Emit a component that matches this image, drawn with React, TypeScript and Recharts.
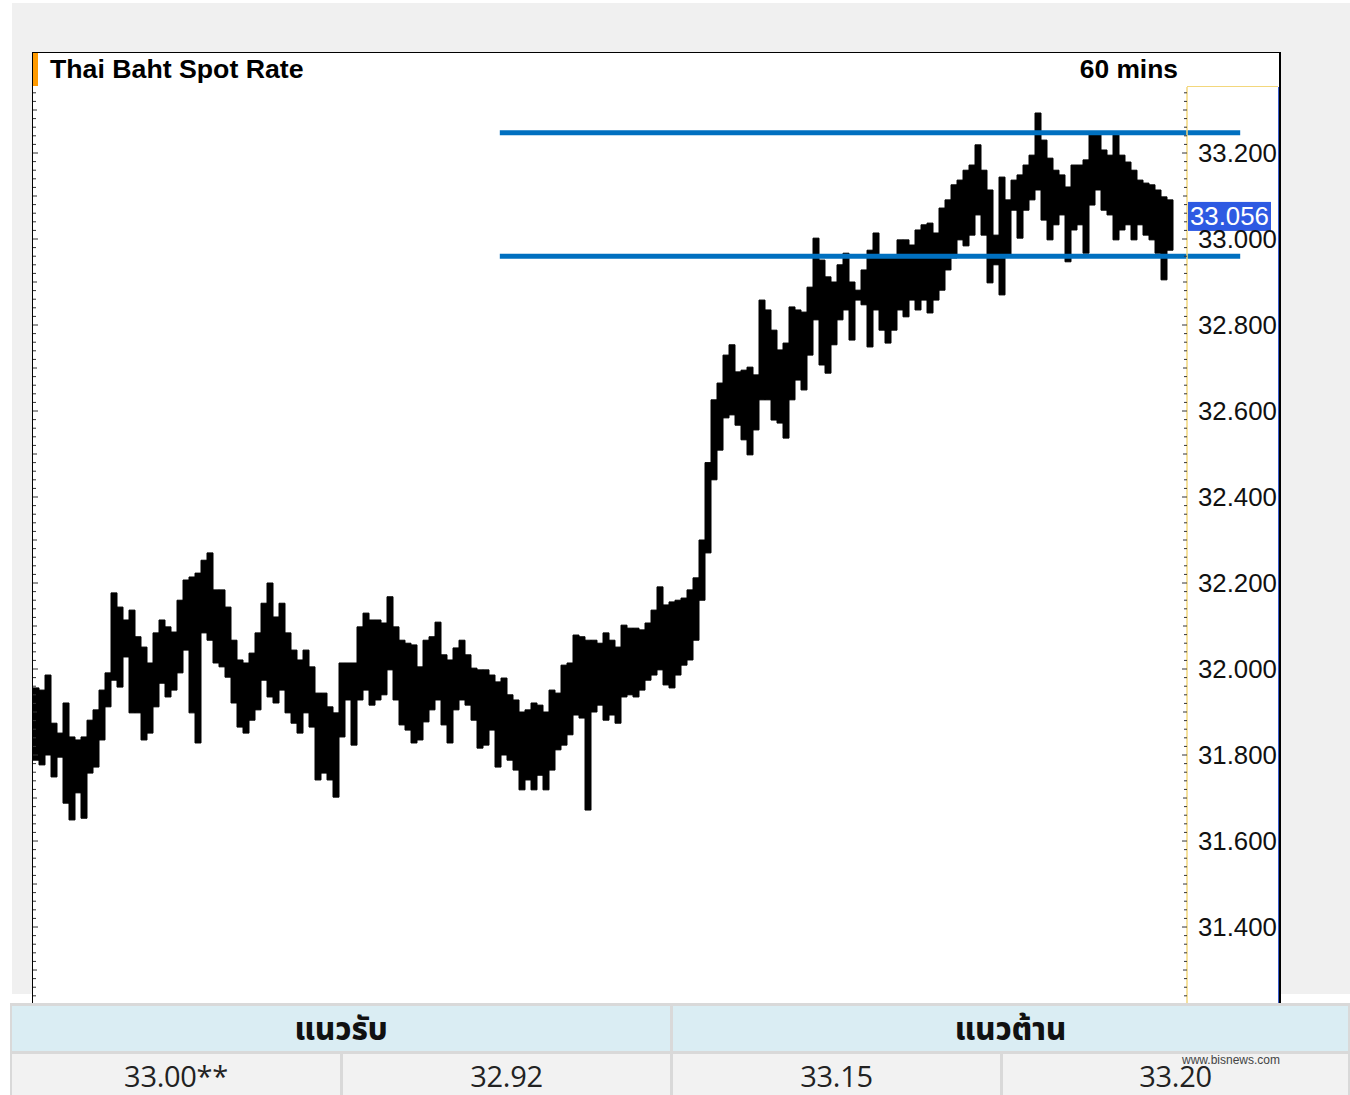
import React from 'react';
import { ComposedChart, Bar, XAxis, YAxis, ReferenceLine } from 'recharts';

// ---- data ----
const highs = [
  31.956, 31.951, 31.986, 31.874, 31.851, 31.921, 31.842, 31.835, 31.842, 31.881,
  31.905, 31.951, 31.991, 32.177, 32.144, 32.114, 32.137, 32.075, 32.051, 32.014,
  32.084, 32.114, 32.098, 32.086, 32.160, 32.207, 32.214, 32.223, 32.253, 32.270,
  32.184, 32.184, 32.144, 32.067, 32.021, 32.014, 32.037, 32.084, 32.153, 32.200,
  32.121, 32.153, 32.084, 32.044, 32.021, 32.044, 32.005, 31.944, 31.944, 31.912,
  31.898, 32.014, 32.014, 32.014, 32.098, 32.130, 32.114, 32.114, 32.107, 32.168,
  32.098, 32.067, 32.060, 32.056, 32.005, 32.067, 32.075, 32.109, 32.033, 32.021,
  32.049, 32.067, 32.033, 32.002, 31.998, 31.998, 31.986, 31.970, 31.979, 31.940,
  31.928, 31.900, 31.905, 31.921, 31.916, 31.900, 31.951, 31.944, 32.009, 32.014,
  32.079, 32.075, 32.067, 32.067, 32.060, 32.084, 32.067, 32.051, 32.102, 32.095,
  32.095, 32.091, 32.107, 32.137, 32.191, 32.149, 32.156, 32.160, 32.165, 32.184,
  32.212, 32.300, 32.480, 32.626, 32.665, 32.730, 32.754, 32.691, 32.695, 32.702,
  32.684, 32.858, 32.835, 32.788, 32.742, 32.758, 32.842, 32.835, 32.830, 32.888,
  33.002, 32.951, 32.912, 32.900, 32.940, 32.967, 32.900, 32.881, 32.928, 32.974,
  33.014, 32.963, 32.956, 32.963, 32.998, 32.998, 32.986, 33.021, 33.033, 33.037,
  33.014, 33.072, 33.091, 33.126, 33.137, 33.160, 33.172, 33.219, 33.160, 33.114,
  33.009, 33.144, 33.091, 33.137, 33.149, 33.172, 33.195, 33.293, 33.230, 33.188,
  33.160, 33.149, 33.121, 33.172, 33.172, 33.184, 33.242, 33.242, 33.207, 33.195,
  33.242, 33.195, 33.179, 33.160, 33.137, 33.130, 33.126, 33.114, 33.098, 33.091,
];

const lows = [
  31.788, 31.777, 31.800, 31.749, 31.795, 31.688, 31.649, 31.712, 31.653, 31.758,
  31.772, 31.835, 31.912, 31.974, 31.958, 32.028, 31.898, 31.898, 31.835, 31.851,
  31.912, 31.967, 31.935, 31.951, 31.991, 32.044, 31.898, 31.828, 32.084, 32.067,
  32.014, 32.005, 31.981, 31.921, 31.865, 31.851, 31.881, 31.905, 31.974, 31.935,
  31.921, 31.951, 31.898, 31.874, 31.851, 31.898, 31.865, 31.742, 31.758, 31.742,
  31.702, 31.842, 31.928, 31.823, 31.928, 31.951, 31.916, 31.928, 31.940, 31.998,
  31.928, 31.870, 31.858, 31.828, 31.835, 31.877, 31.905, 31.928, 31.870, 31.828,
  31.905, 31.928, 31.916, 31.881, 31.816, 31.823, 31.858, 31.772, 31.800, 31.788,
  31.765, 31.719, 31.742, 31.719, 31.753, 31.719, 31.765, 31.812, 31.823, 31.847,
  31.893, 31.886, 31.672, 31.900, 31.916, 31.881, 31.893, 31.874, 31.935, 31.940,
  31.935, 31.951, 31.974, 31.986, 31.998, 31.963, 31.956, 31.986, 32.009, 32.021,
  32.067, 32.160, 32.270, 32.440, 32.509, 32.584, 32.591, 32.567, 32.533, 32.498,
  32.556, 32.626, 32.626, 32.579, 32.572, 32.537, 32.626, 32.672, 32.649, 32.730,
  32.812, 32.707, 32.688, 32.754, 32.812, 32.835, 32.765, 32.858, 32.847, 32.749,
  32.835, 32.788, 32.758, 32.788, 32.835, 32.819, 32.858, 32.835, 32.858, 32.828,
  32.858, 32.881, 32.928, 32.956, 32.998, 32.984, 33.009, 33.056, 33.009, 32.898,
  32.940, 32.870, 32.963, 33.067, 33.002, 33.067, 33.091, 33.114, 33.044, 32.998,
  33.033, 33.056, 32.947, 33.021, 33.033, 32.967, 33.079, 33.114, 33.067, 33.056,
  32.998, 33.021, 33.033, 32.998, 33.033, 33.009, 32.998, 32.967, 32.905, 32.974,
];

const yTickLabels = [31.4, 31.6, 31.8, 32.0, 32.2, 32.4, 32.6, 32.8, 33.0, 33.2];
const lastPrice = 33.056;
const resistanceLevel = 33.247;
const supportLevel = 32.96;
const levelStartIndex = 77.3;
const levelEndIndex = 200.7;

const chartTitle = 'Thai Baht Spot Rate';
const intervalLabel = '60 mins';
const supportHeader = 'แนวรับ';
const resistanceHeader = 'แนวต้าน';
const supportValues = ['33.00**', '32.92'];
const resistanceValues = ['33.15', '33.20'];
const watermark = 'www.bisnews.com';

// ---- chart config ----
const Y_DOMAIN: [number, number] = [31.2233, 33.3535];
const X_DOMAIN: [number, number] = [-0.5, 191.833];

const data = highs.map((h, i) => ({ i, range: [lows[i], h] }));

const minorTicks: number[] = [];
for (let n = 1562; n <= 1667; n++) minorTicks.push(n / 50);

const isLabelTick = (v: number) => yTickLabels.some((t) => Math.abs(t - v) < 1e-6);
const tickLen = (v: number) => {
  const n = Math.round(v * 50);
  if (n % 10 === 0) return 5;
  if (n % 5 === 0) return 4;
  return 3;
};

const RightTick = (props: any) => {
  const { x, y, payload } = props;
  const v = payload.value as number;
  const len = tickLen(v);
  return (
    <g>
      <line x1={x - len} x2={x} y1={y} y2={y} stroke="#333" strokeWidth={1} />
      {isLabelTick(v) && (
        <text
          x={x + 11}
          y={y}
          dominantBaseline="central"
          textAnchor="start"
          fontFamily='"Liberation Sans", Arial, sans-serif'
          fontSize={25.8}
          fill="#111"
        >
          {v.toFixed(3)}
        </text>
      )}
    </g>
  );
};

const LeftTick = (props: any) => {
  const { x, y, payload } = props;
  const v = payload.value as number;
  const len = tickLen(v);
  return <line x1={x} x2={x + len} y1={y} y2={y} stroke="#333" strokeWidth={1} />;
};

const PriceTag = (props: any) => {
  const vb = props.viewBox || { x: 0, y: 0, width: 0 };
  const x = vb.x + vb.width;
  const y = vb.y;
  return (
    <g>
      <rect x={x + 1} y={y - 13} width={83} height={29} fill="#2e5ae2" />
      <text
        x={x + 3}
        y={y + 1.5}
        dominantBaseline="central"
        fill="#ffffff"
        fontFamily='"Liberation Sans", Arial, sans-serif'
        fontSize={25.8}
      >
        {lastPrice.toFixed(3)}
      </text>
    </g>
  );
};

const abs = (l: number, t: number, w: number, h: number, extra: React.CSSProperties = {}): React.CSSProperties => ({
  position: 'absolute',
  left: l,
  top: t,
  width: w,
  height: h,
  ...extra,
});

const valueFont = '"Open Sans", "Noto Sans", "DejaVu Sans", sans-serif';
const thaiFont = '"Noto Sans Thai", "Leelawadee UI", Tahoma, "Noto Sans", "DejaVu Sans", sans-serif';

const Cell = ({ l, w, text }: { l: number; w: number; text: string }) => (
  <div
    style={abs(l, 1054, w, 41, {
      background: '#f2f2f2',
      display: 'flex',
      justifyContent: 'center',
      alignItems: 'flex-start',
      overflow: 'hidden',
    })}
  >
    <span style={{ fontFamily: valueFont, fontSize: 29, lineHeight: '44px', color: '#222', marginTop: 0, letterSpacing: -0.3 }}>
      {text}
    </span>
  </div>
);

export default function App() {
  return (
    <div style={{ position: 'absolute', left: 0, top: 0, width: 1350, height: 1095, background: '#fff', overflow: 'hidden' }}>
      {/* outer gray page */}
      <div style={abs(12, 3, 1338, 991, { background: '#f0f0f0' })} />
      {/* chart panel */}
      <div style={abs(32, 52, 1249, 951, { background: '#fff' })} />
      {/* frame lines */}
      <div style={abs(32, 52, 1249, 1, { background: '#000' })} />
      <div style={abs(32, 52, 1, 951, { background: '#000' })} />
      <div style={abs(1279, 52, 2, 951, { background: '#000' })} />
      <div style={abs(1278, 87, 1, 916, { background: '#3a5ccc' })} />
      <div style={abs(1187, 86, 91, 1, { background: '#f3d77c' })} />
      {/* orange marker */}
      <div style={abs(33, 53, 5, 33, { background: '#ff9a00' })} />

      <div style={abs(0, 0, 1350, 1003)}>
        <ComposedChart
          width={1350}
          height={1003}
          data={data}
          margin={{ top: 87, right: 70, bottom: 0, left: 32 }}
        >
          <XAxis dataKey="i" type="number" domain={X_DOMAIN} allowDataOverflow hide />
          <YAxis
            yAxisId="L"
            orientation="left"
            type="number"
            domain={Y_DOMAIN}
            allowDataOverflow
            width={1}
            ticks={minorTicks}
            interval={0}
            tickSize={0}
            tickMargin={0}
            axisLine={false}
            tickLine={false}
            tick={<LeftTick />}
          />
          <YAxis
            yAxisId="R"
            orientation="right"
            type="number"
            domain={Y_DOMAIN}
            allowDataOverflow
            width={93}
            ticks={minorTicks}
            interval={0}
            tickSize={0}
            tickMargin={0}
            axisLine={{ stroke: '#f3d77c', strokeWidth: 1.5 }}
            tickLine={false}
            tick={<RightTick />}
          />
          <Bar
            yAxisId="R"
            dataKey="range"
            fill="#000"
            stroke="#000"
            strokeWidth={1}
            barSize={6}
            isAnimationActive={false}
          />
          <ReferenceLine
            yAxisId="R"
            ifOverflow="visible"
            segment={[
              { x: levelStartIndex, y: resistanceLevel },
              { x: levelEndIndex, y: resistanceLevel },
            ]}
            stroke="#0070c0"
            strokeWidth={5}
          />
          <ReferenceLine
            yAxisId="R"
            ifOverflow="visible"
            segment={[
              { x: levelStartIndex, y: supportLevel },
              { x: levelEndIndex, y: supportLevel },
            ]}
            stroke="#0070c0"
            strokeWidth={5}
          />
          <ReferenceLine yAxisId="R" y={lastPrice} stroke="none" ifOverflow="visible" label={<PriceTag />} />
        </ComposedChart>
      </div>

      {/* table */}
      <div style={abs(10, 1003, 1340, 92, { background: '#d9d9d9' })} />
      <div
        style={abs(12, 1006, 658, 45, {
          background: '#daedf3',
          display: 'flex',
          justifyContent: 'center',
          alignItems: 'center',
        })}
      >
        <span style={{ fontFamily: thaiFont, fontWeight: 800, fontSize: 31, color: '#111', marginTop: 4 }}>{supportHeader}</span>
      </div>
      <div
        style={abs(673, 1006, 675, 45, {
          background: '#daedf3',
          display: 'flex',
          justifyContent: 'center',
          alignItems: 'center',
        })}
      >
        <span style={{ fontFamily: thaiFont, fontWeight: 800, fontSize: 31, color: '#111', marginTop: 4 }}>{resistanceHeader}</span>
      </div>
      <Cell l={12} w={328} text={supportValues[0]} />
      <Cell l={343} w={327} text={supportValues[1]} />
      <Cell l={673} w={327} text={resistanceValues[0]} />
      <Cell l={1003} w={345} text={resistanceValues[1]} />

      {/* overlay texts */}
      <svg width={1350} height={1095} style={{ position: 'absolute', left: 0, top: 0, pointerEvents: 'none' }}>
        <text x={50} y={78} fontFamily='"Liberation Sans", Arial, sans-serif' fontWeight={700} fontSize={26.7} fill="#000">
          {chartTitle}
        </text>
        <text
          x={1178}
          y={78}
          textAnchor="end"
          fontFamily='"Liberation Sans", Arial, sans-serif'
          fontWeight={700}
          fontSize={26.4}
          fill="#000"
        >
          {intervalLabel}
        </text>
        <text x={1182} y={1064} fontFamily='"Liberation Sans", Arial, sans-serif' fontSize={12} fill="#444">
          {watermark}
        </text>
      </svg>
    </div>
  );
}
